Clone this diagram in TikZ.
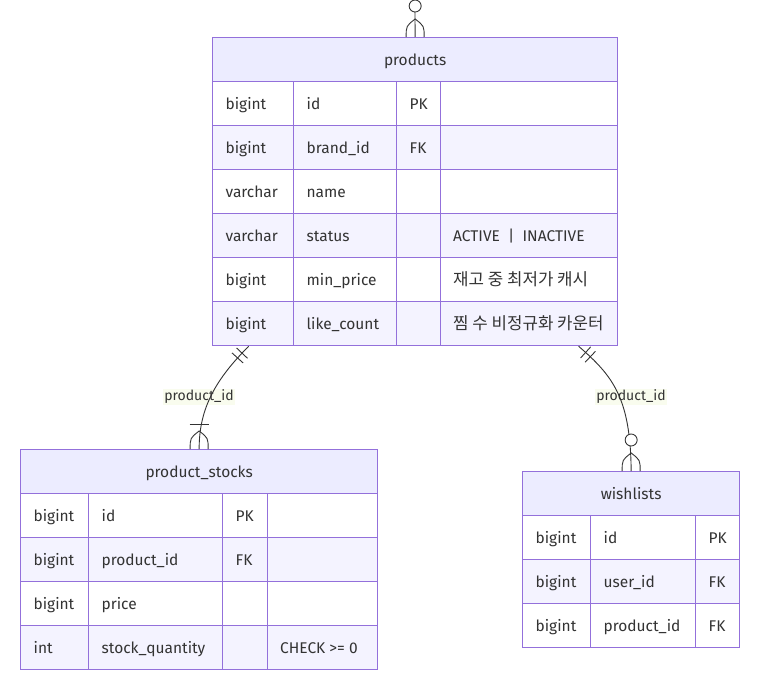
\documentclass[tikz,border=0pt]{standalone}
\usepackage{fontspec}
\setmainfont{Fira Sans}
\newfontfamily\krfont{Noto Sans CJK KR}
\usetikzlibrary{positioning}

\definecolor{erline}{HTML}{9370DB}
\definecolor{erhead}{HTML}{ECECFF}
\definecolor{errow}{HTML}{F4F3FF}
\definecolor{ertext}{HTML}{333333}
\definecolor{lblbg}{HTML}{F9FCEE}

\begin{document}
\begin{tikzpicture}[
		x=1pt, y=-1pt,
		font=\fontsize{15.5}{18}\selectfont,
		text=ertext,
		cell/.style={draw=erline, line width=1.3pt, anchor=north west, minimum height=44pt,
			inner xsep=13pt, inner ysep=0pt, text height=13pt, text depth=1pt},
		head/.style={draw=erline, line width=1.3pt, fill=erhead, anchor=north west,
			minimum height=44pt, inner sep=0pt, text height=13pt, text depth=1pt},
		entity/.style={draw=erline, line width=1.3pt, anchor=north west, inner sep=0pt},
		note/.style={anchor=west, inner sep=0pt, text height=13pt, text depth=1pt},
		krnote/.style={note, font=\krfont\fontsize{16.8}{18}\selectfont},
		rel/.style={draw=ertext, line width=0.9pt},
		elabel/.style={fill=lblbg, font=\fontsize{14}{16}\selectfont, inner sep=1pt},
		bar/.style={draw=ertext, line width=0.9pt, inner sep=0pt, minimum width=0pt,
			minimum height=15pt, sloped},
		crowfoot/.pic={\draw[rel] (-9,0) .. controls (-9,-11) .. (0,-18) .. controls (9,-11) .. (9,0);},
		ring/.pic={\draw[rel, fill=white] (0,-31) circle[radius=6pt];},
		onebar/.pic={\draw[rel] (-9.5,-25) -- (9.5,-25);}
		]
		
		\useasboundingbox (0,0) rectangle (762,682);
		\clip (0,0) rectangle (762,682);
		
		% products table
		\node[head, minimum width=405pt] (p-head) at (212,37) {products};
		\foreach \i/\f/\t/\n/\k in {
			1/white/bigint/id/PK,
			2/errow/bigint/brand\_id/FK,
			3/white/varchar/name/,
			4/errow/varchar/status/,
			5/white/bigint/min\_price/,
			6/errow/bigint/like\_count/}
		{
			\pgfmathsetmacro\ypos{37+44*\i}
			\node[cell, fill=\f] (p\i-t) at (212,\ypos) {\makebox[55pt][l]{\t}};
			\node[cell, fill=\f] (p\i-n) at (293,\ypos) {\makebox[77pt][l]{\n}};
			\node[cell, fill=\f] (p\i-k) at (396,\ypos) {\makebox[18pt][l]{\k}};
			\node[cell, fill=\f] (p\i-c) at (440,\ypos) {\makebox[151pt][l]{}};
		}
		\node[note] (p4-note) at ([xshift=13pt]p4-c.west) {ACTIVE \ | \ INACTIVE};
		\node[krnote] (p5-note) at ([xshift=13pt]p5-c.west) {재고 중 최저가 캐시};
		\node[krnote] (p6-note) at ([xshift=13pt]p6-c.west) {찜 수 비정규화 카운터};
		\node[entity, minimum width=405pt, minimum height=308pt] (products) at (212,37) {};
		
		% product_stocks table
		\node[head, minimum width=357pt] (s-head) at (20,449) {product\_stocks};
		\foreach \i/\f/\t/\n/\k in {
			1/white/bigint/id/PK,
			2/errow/bigint/product\_id/FK,
			3/white/bigint/price/,
			4/errow/int/stock\_quantity/}
		{
			\pgfmathsetmacro\ypos{449+44*\i}
			\node[cell, fill=\f] (s\i-t) at (20,\ypos) {\makebox[42pt][l]{\t}};
			\node[cell, fill=\f] (s\i-n) at (88,\ypos) {\makebox[108pt][l]{\n}};
			\node[cell, fill=\f] (s\i-k) at (222,\ypos) {\makebox[19pt][l]{\k}};
			\node[cell, fill=\f] (s\i-c) at (267,\ypos) {\makebox[84pt][l]{}};
		}
		\node[note] (s4-note) at ([xshift=13pt]s4-c.west) {CHECK >= 0};
		\node[entity, minimum width=357pt, minimum height=220pt] (stocks) at (20,449) {};
		
		% wishlists table
		\node[head, minimum width=217pt] (w-head) at (522,471) {wishlists};
		\foreach \i/\f/\t/\n/\k in {
			1/white/bigint/id/PK,
			2/errow/bigint/user\_id/FK,
			3/white/bigint/product\_id/FK}
		{
			\pgfmathsetmacro\ypos{471+44*\i}
			\node[cell, fill=\f] (w\i-t) at (522,\ypos) {\makebox[42pt][l]{\t}};
			\node[cell, fill=\f] (w\i-n) at (590,\ypos) {\makebox[79pt][l]{\n}};
			\node[cell, fill=\f] (w\i-k) at (695,\ypos) {\makebox[18pt][l]{\k}};
		}
		\node[entity, minimum width=217pt, minimum height=176pt] (wishlists) at (522,471) {};
		
		% Edge labels
		\node[elabel] (lbl-stocks) at (199,397) {product\_id};
		\node[elabel] (lbl-wish) at (631,397) {product\_id};
		
		% Relationships
		\coordinate (offtop) at (414.5,-40);
		\draw[rel] (offtop) -- (products.north);
		\pic at (products.north) {crowfoot};
		\pic at (products.north) {ring};
		
		\draw[rel] ([xshift=-166.5pt]products.south) .. controls (216,379) and (199,408) .. (stocks.north)
			node[bar, pos=0.07] {} node[bar, pos=0.12] {};
		\pic at (stocks.north) {crowfoot};
		\pic at (stocks.north) {onebar};
		
		\draw[rel] ([xshift=163.5pt]products.south) .. controls (613,376) and (630.5,398) .. (wishlists.north)
			node[bar, pos=0.07] {} node[bar, pos=0.12] {};
		\pic at (wishlists.north) {crowfoot};
		\pic at (wishlists.north) {ring};
		
	\end{tikzpicture}
\end{document}
